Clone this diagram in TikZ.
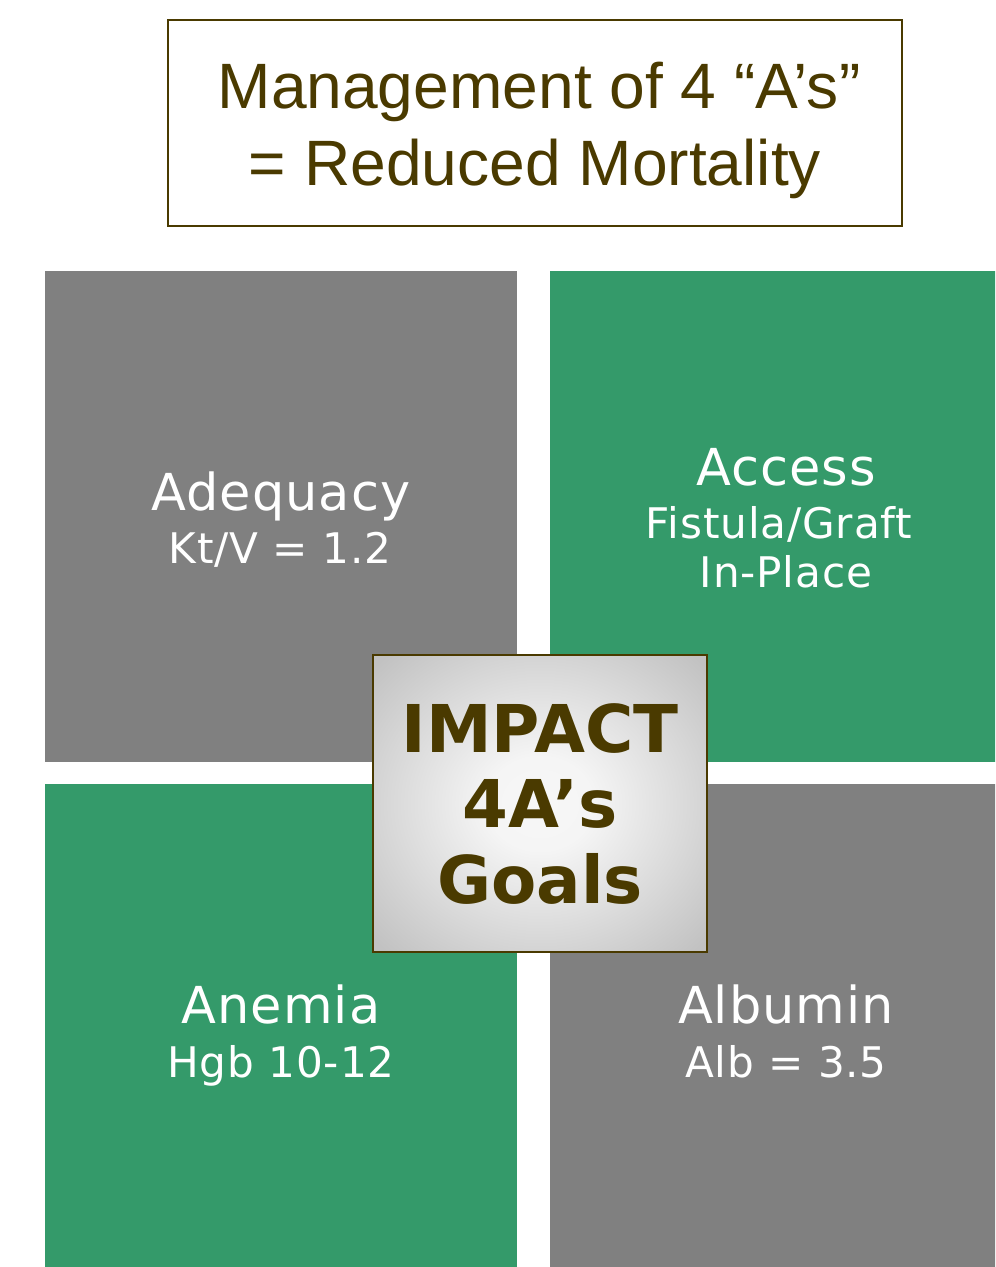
\documentclass[tikz,border=0pt]{standalone}
\usepackage{fontspec}
\setmainfont{DejaVu Sans}
\newfontfamily\titlefont{Liberation Sans}
\newfontfamily\tilefont[LetterSpace=2]{DejaVu Sans}
\usepackage{tikz}
\usetikzlibrary{positioning}
\usepackage{xcolor}

\definecolor{tilegray}{HTML}{808080}
\definecolor{tilegreen}{HTML}{349A6A}
\definecolor{darkolive}{HTML}{4A3A00}
\pgfdeclareradialshading{impactglow}{\pgfpoint{0bp}{0bp}}{color(0bp)=(white!97!black); color(8bp)=(white!96!black); color(34bp)=(white!76!black); color(50bp)=(white!76!black)}

\tikzset{
    tile/.style={rectangle, inner sep=0pt, minimum width=9.44cm, minimum height=9.82cm},
    head/.style={anchor=base, text=white, font=\tilefont\fontsize{29}{34}\selectfont},
    goal/.style={anchor=base, text=white, font=\tilefont\fontsize{24}{28}\selectfont},
    titleline/.style={anchor=base, text=darkolive, font=\titlefont\fontsize{36.5}{44}\selectfont},
    impactline/.style={anchor=base, text=darkolive, font=\bfseries\fontsize{37.5}{44}\selectfont}
}

\begin{document}
\begin{tikzpicture}[x=0.02cm, y=-0.02cm]
        \useasboundingbox (0, 0) rectangle (995, 1267);
        \clip (0, 0) rectangle (995, 1267);

        % Title box
        \node[draw=darkolive, line width=1.1pt, inner sep=0pt, minimum width=14.68cm, minimum height=4.12cm] (title) at (535, 123) {};
        \node[titleline] (titleA) at (539, 109) {Management of 4 “A’s”};
        \node[titleline] (titleB) at (535, 186) {= Reduced Mortality};

        % Four tiles
        \node[tile, fill=tilegray] (adequacy) at (281, 516.5) {};
        \node[tile, fill=tilegreen] (access) at (786, 516.5) {};
        \node[tile, fill=tilegreen] (anemia) at (281, 1029.5) {};
        \node[tile, fill=tilegray] (albumin) at (786, 1029.5) {};

        % Tile texts
        \node[head] (adequacyname) at (281, 510) {Adequacy};
        \node[goal] (adequacygoal) at (280, 563) {Kt/V = 1.2};

        \node[head] (accessname) at (786, 485) {Access};
        \node[goal] (accessgoal) at (779, 538) {Fistula/Graft};
        \node[goal] (accessplace) at (786, 587) {In-Place};

        \node[head] (anemianame) at (281, 1023) {Anemia};
        \node[goal] (anemiagoal) at (281, 1077) {Hgb 10-12};

        \node[head] (albuminname) at (786, 1023) {Albumin};
        \node[goal] (albumingoal) at (786, 1077) {Alb = 3.5};

        % Centre box
        \node[draw=darkolive, line width=1.1pt, inner sep=0pt, shade, shading=impactglow, minimum width=6.68cm, minimum height=5.94cm] (impact) at (540, 803.5) {};
        \node[impactline] (impactA) at (540, 752) {IMPACT};
        \node[impactline] (impactB) at (540, 827) {4A’s};
        \node[impactline] (impactC) at (540, 903) {Goals};

    \end{tikzpicture}
\end{document}
